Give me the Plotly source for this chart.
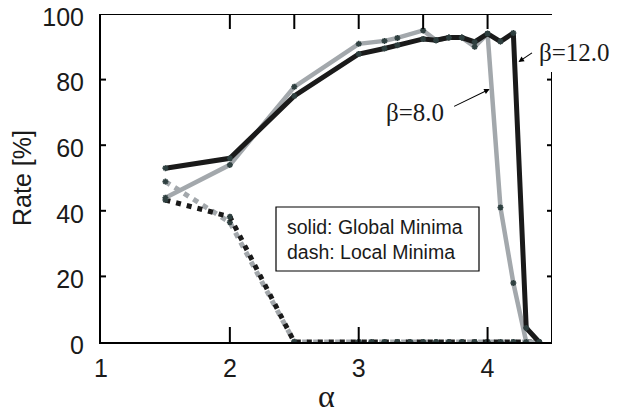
import plotly.graph_objects as go

# data
x_solid = [1.5, 2.0, 2.5, 3.0, 3.2, 3.3, 3.5, 3.6, 3.7, 3.8, 3.9, 4.0, 4.1, 4.2, 4.3, 4.4]
global_b12 = [53, 56, 75, 87.8, 89.5, 90.5, 92.4, 92, 92.8, 92.8, 91.5, 94, 91.6, 94.2, 4.3, 0]
global_b8 = [44, 54, 77.8, 90.9, 91.8, 92.7, 95, 92, 92.8, 92.8, 90, 94, 41, 18, 0, 0]
x_dash = [1.5, 2.0, 2.5, 3.0, 3.1, 3.2, 3.3, 3.4, 3.5, 3.6, 3.7, 3.8, 3.9, 4.0, 4.1, 4.2, 4.3, 4.4]
local_b12 = [43.3, 38.2, 0, 0, 0, 0, 0, 0, 0, 0, 0, 0, 0, 0, 0, 0, 0, 0]
local_b8 = [48.9, 36.5, 0, 0, 0, 0, 0, 0, 0, 0, 0, 0, 0, 0, 0, 0, 0, 0]
x_ticks = [1, 2, 3, 4]
x_top_ticks = [2, 2.5, 3, 3.5, 4]
y_ticks = [0, 20, 40, 60, 80, 100]
y_right_ticks = [20, 40, 60, 80]
X_RANGE = [1, 4.5]
Y_RANGE = [0, 100]

BLACK = "#1a1a1a"
GRAY = "#a3a8ac"
MARK = "#2f4040"
serif = "Liberation Serif, DejaVu Serif, serif"
sans = "Liberation Sans, Arial, sans-serif"

# page has an 8px body margin: figure is drawn 8px right/down of the window corner
OFF = 8
L, R, T, B = 101, 552, 14, 342
PX_W, PX_H = R - L, B - T
UX = (X_RANGE[1] - X_RANGE[0]) / PX_W   # data units per pixel (x)
UY = (Y_RANGE[1] - Y_RANGE[0]) / PX_H   # data units per pixel (y)

def px(xp, yp):
    return (xp - L) / PX_W, (B - yp) / PX_H

mk = dict(color=MARK, size=5, symbol="asterisk", line=dict(color=MARK, width=1.6))

fig = go.Figure()
fig.add_trace(go.Scatter(x=x_dash, y=local_b8, mode="lines+markers",
                         line=dict(color=GRAY, width=5, dash="5.5px,5.5px"), marker=mk))
fig.add_trace(go.Scatter(x=x_dash, y=local_b12, mode="lines+markers",
                         line=dict(color=BLACK, width=5, dash="5px,6px"), marker=mk))
fig.add_trace(go.Scatter(x=x_solid, y=global_b8, mode="lines+markers",
                         line=dict(color=GRAY, width=4.5), marker=mk))
fig.add_trace(go.Scatter(x=x_solid, y=global_b12, mode="lines+markers",
                         line=dict(color=BLACK, width=5), marker=mk))

# frame (top + partial right side) and inside tick marks, built from the tick arrays
fx, fy = [], []
# top edge
fx += [X_RANGE[0], X_RANGE[1], None]; fy += [Y_RANGE[1], Y_RANGE[1], None]
# right edge, interrupted near the top by the beta=12.0 label
right_top = Y_RANGE[0] + (B - 72) * UY
fx += [X_RANGE[1], X_RANGE[1], None]; fy += [Y_RANGE[0], right_top, None]
# bottom ticks (15 px, inside)
for v in x_ticks[1:]:
    fx += [v, v, None]; fy += [Y_RANGE[0], Y_RANGE[0] + 15 * UY, None]
# top ticks (15 px, inside)
for v in x_top_ticks:
    fx += [v, v, None]; fy += [Y_RANGE[1], Y_RANGE[1] - 15 * UY, None]
# left ticks (5 px, inside)
for v in y_ticks[1:]:
    fx += [X_RANGE[0], X_RANGE[0] + 5 * UX, None]; fy += [v, v, None]
# right ticks (5 px, inside)
for v in y_right_ticks:
    fx += [X_RANGE[1], X_RANGE[1] - 5 * UX, None]; fy += [v, v, None]
fig.add_trace(go.Scatter(x=fx, y=fy, mode="lines", line=dict(color="black", width=2),
                         cliponaxis=False, hoverinfo="skip", connectgaps=False))

# arrows
fig.add_annotation(x=4.016, y=77.1, xref="x", yref="y", text="", showarrow=True,
                   ax=-37, ay=18, arrowhead=2, arrowsize=1, arrowwidth=1.1, arrowcolor="black")
fig.add_annotation(x=4.24, y=85.4, xref="x", yref="y", text="", showarrow=True,
                   ax=15, ay=-10, arrowhead=2, arrowsize=1, arrowwidth=1.1, arrowcolor="black")

bx, by = px(415, 112)
fig.add_annotation(x=bx, y=by, xref="paper", yref="paper", text="β=8.0", showarrow=False,
                   xanchor="center", yanchor="middle", font=dict(family=serif, size=25, color=BLACK))
bx, by = px(574, 52)
fig.add_annotation(x=bx, y=by, xref="paper", yref="paper", text="β=12.0", showarrow=False,
                   xanchor="center", yanchor="middle", font=dict(family=serif, size=25, color=BLACK))
bx, by = px(285, 240)
fig.add_annotation(x=bx, y=by, xref="paper", yref="paper",
                   text="solid: Global Minima<br>dash: Local Minima", showarrow=False,
                   xanchor="left", yanchor="middle", align="left",
                   font=dict(family=sans, size=19.5, color=BLACK))
x0, y0 = px(276, 271)
x1, y1 = px(479, 207)
fig.add_shape(type="rect", xref="paper", yref="paper", x0=x0, x1=x1, y0=y0, y1=y1,
              line=dict(color="black", width=1.2), fillcolor="rgba(0,0,0,0)")

W, H = 623 - OFF, 414 - OFF
fig.update_layout(
    width=W, height=H,
    margin=dict(l=L - OFF, r=W - (R - OFF), t=T - OFF, b=H - (B - OFF), autoexpand=False),
    paper_bgcolor="white", plot_bgcolor="white",
    showlegend=False,
    xaxis=dict(range=X_RANGE, tickvals=x_ticks, ticks="", 
               showline=True, linecolor="black", linewidth=2, mirror=False,
               showgrid=False, zeroline=False, automargin=False, ticklabelstandoff=3,
               tickfont=dict(family=sans, size=25, color=BLACK),
               title=dict(text="α", font=dict(family=serif, size=32, color=BLACK), standoff=20)),
    yaxis=dict(range=Y_RANGE, tickvals=y_ticks, ticks="",
               showline=True, linecolor="black", linewidth=2, mirror=False,
               showgrid=False, zeroline=False, automargin=False, ticklabelstandoff=10,
               ticklabeloverflow="allow", ticklabelshift=3,
               tickfont=dict(family=sans, size=25, color=BLACK),
               title=dict(text="Rate [%]", font=dict(family=sans, size=25, color=BLACK), standoff=15)),
)

fig.write_html("out.html")
